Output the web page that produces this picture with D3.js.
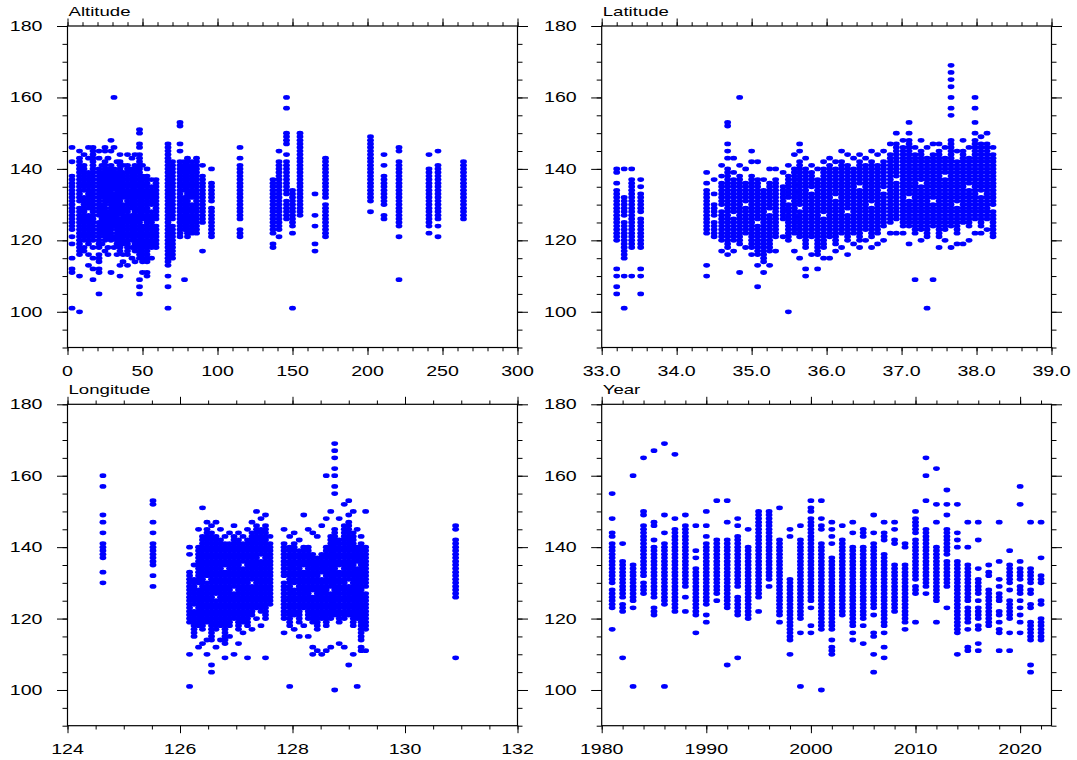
<!DOCTYPE html>
<html><head><meta charset="utf-8">
<script src="https://cdn.jsdelivr.net/npm/d3@7"></script>
<style>body{margin:0;background:#fff} text{font-family:"Liberation Sans",Arial,Helvetica,sans-serif;fill:#000}</style>
</head><body><svg id="c" width="1077" height="760"></svg>
<script>
// ---------------- DATA ----------------
const yTicks = [100, 120, 140, 160, 180];

// Altitude panel: station altitude and the y values observed at it ("a:b" = every integer value from a to b)
const altX = [3, 8, 11, 14, 17, 21, 23, 25, 27, 29, 31, 33, 35, 37, 40, 43, 45, 48, 50, 53, 56, 59,
  67, 70, 75, 78, 80, 83, 86, 90, 96, 115, 137, 141, 146, 150, 155, 165, 172, 202, 211, 221, 241, 247, 264];
const altY = [
  "146 142 123:138 121 119 115 112 111 101",
  "100 145 117:129 131:143 116 110",
  "144 120:132 134:141 118 117",
  "146 143 119:127 129:139 116 113",
  "146 145 142:144 120:141 118 115 112 109",
  "145 143 118:125 127:140 116 115 114 112 111 105",
  "141 122:130 132:139 119",
  "146 145 120:142 117",
  "143 121:128 131:140 118 116",
  "148 145 120:141 111",
  "160 146 124:133 135:140 121 118",
  "142 119:139 116",
  "144 117:126 128:142 113 110",
  "141 119:130 132:139 116 114",
  "144 116:141 113",
  "143 120:127 129:140 118 115",
  "144 117:141 114",
  "151 150 147 146 115:144 109 107 105",
  "141 114:124 126:138 111",
  "140 114:138 111 110",
  "137 118:128 130:135 115",
  "126:137 118:124",
  "113:147 110 107 101",
  "115:124 126:142",
  "153 152 147 145 124:142 121 122 123",
  "123:132 134:142 109",
  "121:143",
  "122:130 132:142",
  "122:143",
  "141 125:138 117",
  "140 121:129 131:136",
  "146 143 126:141 121:123",
  "122:137 119 118",
  "145 123:142 121",
  "160 157 147:150 144 133:142 126:131",
  "124:134 122 101",
  "127:150",
  "133 127 124 119 117",
  "121:130 132:143",
  "131:149 128",
  "144 141 130:138 126 127",
  "146 145 125:142 124 121 109",
  "144 124:140 122",
  "145 126:141 124 121",
  "126:142"
];

// Latitude panel
const latX = [33.2, 33.3, 33.4, 33.52, 34.40, 34.50, 34.60, 34.68, 34.76, 34.84, 34.92, 35.00, 35.08,
  35.16, 35.24, 35.32, 35.42, 35.49, 35.57, 35.64, 35.72, 35.80, 35.88, 35.96, 36.04, 36.12, 36.20,
  36.28, 36.36, 36.44, 36.52, 36.60, 36.68, 36.76, 36.85, 36.93, 37.02, 37.10, 37.18, 37.26, 37.34,
  37.42, 37.50, 37.58, 37.66, 37.74, 37.82, 37.90, 37.98, 38.06, 38.14, 38.22];
const latY = [
  "140 139 136 120:134 112 110 107 105",
  "140 115:125 127:132 110 101",
  "140 137 118:136 110",
  "137 135 118:126 128:133 112 110 105",
  "139 136 122:134 113 110",
  "137 133 121:125 127:130",
  "141 138 120:128 130:136 117",
  "153 152 147 145 143 118:140 116",
  "143 139 120:126 128:137 117",
  "160 141 119:138 111",
  "140 122:129 131:136 118",
  "145 142 118:138 116",
  "142 116:124 126:137 113 107",
  "137 114:134 111",
  "140 117:127 129:136 113",
  "140 121:137 117",
  "139 126:135 121",
  "141 120:130 132:138 100",
  "144 122:140 117",
  "147 145 121:128 130:142 115",
  "143 118:140 112 110",
  "141 121:133 135:139 116",
  "140 116:137 112",
  "142 118:126 128:140 115",
  "143 121:141 115",
  "142 119:131 133:140 117",
  "145 122:142 118",
  "144 120:127 129:141 116",
  "143 122:140 119",
  "144 120:134 136:142 118",
  "143 123:141 120",
  "145 121:129 131:142 118",
  "144 122:141 119",
  "145 124:133 135:142 120",
  "147 125:144 122",
  "150 126:136 138:147 122",
  "148 124:146 122",
  "153 150 124:131 133:148 119",
  "146 122:144 109",
  "148 123:135 137:145 120",
  "146 121:143 101",
  "147 124:130 132:144 109",
  "147 121:145 118",
  "146 123:137 139:143 120",
  "169 167 165 163 160 157 155 124:148 118",
  "145 122:129 131:142 119",
  "148 125:145 119",
  "146 124:134 136:143 120",
  "160 157 153 150 126:148 122",
  "149 124:132 134:147 122",
  "150 126:147 123",
  "146 121:128 130:144"
];

// Longitude panel
const lonX = [124.63, 125.52, 126.17, 126.25, 126.33, 126.40, 126.48, 126.56, 126.64, 126.72, 126.80,
  126.88, 126.96, 127.04, 127.12, 127.20, 127.28, 127.36, 127.44, 127.52, 127.60, 127.85, 127.95,
  128.03, 128.12, 128.20, 128.28, 128.36, 128.44, 128.52, 128.60, 128.68, 128.75, 128.83, 128.92,
  129.00, 129.08, 129.15, 129.22, 129.30, 130.90];
const lonY = [
  "160 157 149 147 144 141 137:140 133 130",
  "153 152 147 144 135:141 132 129",
  "140 138 119:133 110 101",
  "135 115:122 124:131",
  "145 118:128 130:140 112",
  "151 117:143 113",
  "147 119:130 132:145 114 110",
  "146 114:144 107 105",
  "147 117:125 127:143 112",
  "145 118:142 114",
  "143 113:133 135:141 109",
  "144 118:141 115",
  "146 120:127 129:143 110",
  "144 117:142 113",
  "143 119:134 136:141 116",
  "145 118:142 109",
  "147 121:129 131:144 117",
  "150 123:146 120",
  "148 122:136 138:145 118",
  "149 120:146 109",
  "143 124:141",
  "145 120:130 132:141 116",
  "143 118:140 101",
  "144 121:128 130:141 117",
  "142 119:139 115",
  "149 123:133 135:140 118",
  "145 120:140 115",
  "144 119:126 128:138 112 110",
  "143 117:137 111",
  "146 120:131 133:138 110",
  "160 148 118:140 111",
  "150 120:127 129:143 112",
  "169 167 165 162 160 157 155 121:145 100",
  "148 119:133 135:142 113",
  "152 120:146 112",
  "153 149 121:129 131:147 107",
  "150 118:144 110",
  "145 120:134 136:140 101",
  "143 114:141 112 111",
  "150 117:127 129:140 111",
  "146 145 126:142 109"
];

// Year panel
const yearX = d3.range(1981, 2023);
const yearY = [
  "155 148 143 144 130:141 123:128 117",
  "141 126:136 122:124 109",
  "160 125:135 123 101",
  "165 149 150 141:146 132:140 127:130",
  "167 146 147 142 126:140 121:123",
  "169 149 144 124:141 101",
  "166 148 124:145 122 123",
  "149 129:146 126 122",
  "146 139 137 121:134 116",
  "150 146 143 124:141 121 119",
  "153 127:142 125",
  "153 147 123:142 107",
  "148 146 129:143 121:126 109",
  "145 140 120:139",
  "126:150 122",
  "131:150 129",
  "151 121:142 119",
  "145 143 114:131 110",
  "146 120:142 116 101",
  "153 151 150 125:148 123 118 116",
  "153 148 146 145 117:141 100",
  "147 145 143 141 135:137 117:134 114 110 111 112",
  "146 142 121:141",
  "147 144 120:140 118 119 116 114",
  "143:145 120:140 118 113",
  "149 144 123:141 121 115 116 110 105",
  "147 142:144 118:138 116 112 109",
  "147 145 141 142 122:135",
  "140 141 119:135 117",
  "150 144:148 131:142 127:129 119",
  "165 160 153 129:145 127",
  "162 152 147 125:140 119",
  "156 152 149 138:145 129:136 123",
  "152 144 142 140 117:136 116 110",
  "147 140 125:135 119:123 117 112 111",
  "147 142 134 131 127:130 125 120:123 118 117 113 111",
  "135 132 133 118:128",
  "147 136 131 129 125:127 121 122 119 117 116 111",
  "139 130:135 128 120:125 116 111",
  "157 152 136 131:134 127:129 125 123 121 119 116",
  "147 130:134 127 128 123 124 114:119 107 105",
  "147 137 130:132 124 125 114:120"
];

// Axis ticks
const altTicks = [0, 50, 100, 150, 200, 250, 300];
const latTicks = [33, 34, 35, 36, 37, 38, 39];
const lonTicks = [124, 126, 128, 130, 132];
const yearTicks = [1980, 1990, 2000, 2010, 2020];

// ---------------- DRAW ----------------
function parseCol(s) {
  const out = [];
  s.trim().split(/\s+/).forEach(t => {
    if (t.includes(":")) {
      const [a, b] = t.split(":").map(Number);
      for (let v = a; v <= b; v++) out.push(v);
    } else out.push(+t);
  });
  return out;
}
function toPoints(xs, ys) {
  const pts = [];
  xs.forEach((x, i) => parseCol(ys[i]).forEach(y => pts.push([x, y])));
  return pts;
}

const panels = [
  {title: "Altitude", xs: altX, ys: altY, dom: [0, 300], ticks: altTicks, minor: d3.range(0, 301, 10), fmt: d3.format("d"), L: 67.5, R: 517.5, T: 26, B: 347.5},
  {title: "Latitude", xs: latX, ys: latY, dom: [33, 39], ticks: latTicks, minor: d3.range(33, 39.01, 0.2), fmt: d3.format(".1f"), L: 601.7, R: 1051.5, T: 26, B: 347.5},
  {title: "Longitude", xs: lonX, ys: lonY, dom: [124, 132], ticks: lonTicks, minor: d3.range(124, 132.01, 0.5), fmt: d3.format("d"), L: 67.5, R: 517.5, T: 404.3, B: 725.7},
  {title: "Year", xs: yearX, ys: yearY, dom: [1980, 2023], ticks: yearTicks, minor: d3.range(1980, 2023, 2), fmt: d3.format("d"), L: 601.7, R: 1051.5, T: 404.3, B: 725.7}
];
const yMinor = d3.range(90, 181, 5);
const SX = 1.4;
const svg = d3.select("#c");
svg.append("rect").attr("width", 1077).attr("height", 760).attr("fill", "#fff");

panels.forEach((p, k) => {
  const x = d3.scaleLinear().domain(p.dom).range([p.L, p.R]);
  const y = d3.scaleLinear().domain([90, 180]).range([p.B, p.T]);
  const g = svg.append("g");

  // points
  g.append("defs").append("clipPath").attr("id", "clip" + k)
    .append("rect").attr("x", p.L).attr("y", p.T).attr("width", p.R - p.L).attr("height", p.B - p.T);
  g.append("g").attr("clip-path", `url(#clip${k})`)
    .selectAll("ellipse").data(toPoints(p.xs, p.ys)).join("ellipse")
    .attr("cx", d => x(d[0])).attr("cy", d => y(d[1]))
    .attr("rx", 3.4).attr("ry", 2.4).attr("fill", "#0000ff");

  // ticks on all sides (outward)
  const axes = [
    [d3.axisBottom(x), `translate(0,${p.B})`, p.minor, p.ticks, 3.8, 7.5],
    [d3.axisTop(x), `translate(0,${p.T})`, p.minor, p.ticks, 3.8, 7.5],
    [d3.axisLeft(y), `translate(${p.L},0)`, yMinor, yTicks, 5, 10.5],
    [d3.axisRight(y), `translate(${p.R},0)`, yMinor, yTicks, 5, 10.5]
  ];
  axes.forEach(([ax, tr, mn, mj, ml, mjl]) => {
    const a1 = g.append("g").attr("transform", tr).call(ax.tickValues(mn).tickSize(ml).tickFormat("").tickSizeOuter(0));
    a1.select(".domain").remove();
    const a2 = g.append("g").attr("transform", tr).call(ax.tickValues(mj).tickSize(mjl).tickFormat("").tickSizeOuter(0));
    a2.select(".domain").remove();
  });
  g.selectAll(".tick line").attr("stroke", "#000").attr("stroke-width", 1);

  // frame
  g.append("rect").attr("x", p.L).attr("y", p.T).attr("width", p.R - p.L).attr("height", p.B - p.T)
    .attr("fill", "none").attr("stroke", "#000").attr("stroke-width", 1.2);

  // tick labels
  g.selectAll(".xl").data(p.ticks).join("text")
    .attr("transform", d => `translate(${x(d)},${p.B + 28.5}) scale(${SX},1)`)
    .attr("text-anchor", "middle").attr("font-size", 14).text(p.fmt);
  g.selectAll(".yl").data(yTicks).join("text")
    .attr("transform", d => `translate(${p.L - 25},${y(d) + 5}) scale(${SX},1)`)
    .attr("text-anchor", "end").attr("font-size", 14).text(d => d);

  // title
  g.append("text").attr("transform", `translate(${p.L + 1},${p.T - 10}) scale(${SX},1)`)
    .attr("font-size", 13.3).text(p.title);
});
</script></body></html>
